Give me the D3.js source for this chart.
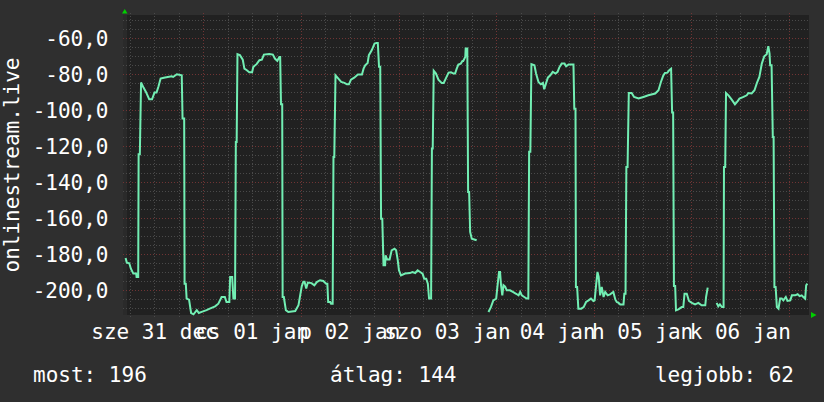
<!DOCTYPE html>
<html>
<head>
<meta charset="utf-8">
<script src="https://cdn.jsdelivr.net/npm/d3@7"></script>
<style>
  html, body { margin: 0; padding: 0; background: #2f2f2f; }
  svg { display: block; }
  text { font-family: "DejaVu Sans Mono", monospace; fill: #ffffff; }
</style>
</head>
<body>
<div id="viz"></div>
<script>
// hours since 2014-12-31 00:00, null = no data
let hours = [
    4.9, 5.2, 5.8, 6.2, 6.8, 7.5, 7.6, 8.0, 8.1, 8.4, 8.7, 9.3, 9.9, 10.7, 11.4, 12.0, 12.5, 13.0, 13.5, 14.3,
    16.2, 16.6, 17.5, 18.7, 18.9, 19.3, 19.4, 19.7, 19.9, 20.5, 21.0, 21.6, 22.4, 22.9, 23.6, 24.8, 25.6, 26.9,
    27.7, 28.5, 29.3, 29.7, 30.4, 30.6, 31.1, 31.4, 31.8, 32.0, 32.2, 32.4, 33.0, 33.7, 34.1, 34.7, 35.3, 36.0,
    36.3, 37.1, 37.8, 38.4, 38.9, 40.2, 41.1, 41.6, 42.2, 42.7, 42.9, 43.1, 43.4, 43.5, 43.8, 44.3, 44.9, 46.6,
    47.4, 47.8, 48.2, 48.6, 48.9, 49.3, 49.7, 50.6, 51.3, 51.9, 52.7, 53.5, 54.2, 54.5, 54.7, 55.2, 55.4, 55.8,
    56.0, 56.2, 56.5, 57.2, 57.9, 58.7, 59.3, 59.8, 60.3, 61.1, 62.0, 63.0, 63.4, 63.8, 64.4, 64.7, 65.4, 66.1,
    66.6, 66.9, 67.2, 67.5, 67.7, 68.0, 68.3, 68.7, 68.8, 69.2, 69.8, 70.3, 71.0, 71.4, 71.8, 72.1, 72.6, 73.6,
    74.8, 75.4, 76.1, 76.7, 77.3, 77.9, 78.3, 78.8, 79.2, 79.5, 80.0, 80.2, 80.4, 80.65, 81.2, 81.8, 82.6, 83.1,
    83.6, 84.3, 84.9, 85.5, 85.9, 86.3, 86.7, 87.3, 87.7, 87.9, 88.4, 88.5, 88.9, 89.1, 89.35, 89.6, 90.0, 90.8,
    91.2, 91.5,
    94.1, 94.7, 95.3, 96.0, 96.3, 96.7, 96.95, 97.2, 97.5, 97.8, 98.2, 98.6, 99.4, 100.1, 100.9, 101.5, 101.9,
    102.3, 102.9, 103.5, 103.9, 104.1, 104.4, 104.66, 105.4, 105.8, 106.4, 106.96, 107.5, 107.8, 108.1, 108.7,
    109.3, 109.9, 110.6, 111.1, 111.5, 112.1, 112.8, 113.2, 113.8, 115.0, 115.2, 115.5, 115.6, 115.9, 116.2,
    116.9, 117.5, 118.1, 118.7, 119.3, 119.9, 120.2, 120.6, 120.9, 121.2, 121.55, 121.95, 122.4, 122.8, 123.4,
    124.0, 124.8, 125.3, 125.65, 126.1, 126.5, 127.3, 127.5, 127.8, 128.0, 128.3, 128.6, 129.3, 129.9, 131.0,
    132.2, 133.4, 135.1, 135.9, 136.5, 137.1, 137.5, 138.1, 138.6, 139.0, 139.25, 139.5, 139.7, 140.0, 140.2,
    140.8, 141.6, 142.0, 142.3, 142.85, 143.4, 144.1, 144.9, 145.7, 146.5, 147.4, 147.6, 148.0, 148.5,
    150.2, 150.6, 151.0, 151.5, 151.9, 152.0, 152.3, 152.5, 153.1, 153.9, 154.7, 155.2, 155.8, 156.8, 157.6,
    158.0, 158.8, 159.5, 160.1, 160.7, 161.3, 161.9, 162.5, 162.9, 163.2, 163.35, 163.7, 164.0, 164.2, 164.4,
    164.7, 165.0, 165.4, 165.8, 166.2, 166.6, 167.2, 167.6, 168.3, 168.7, 169.5, 170.1, 170.6, 171.1, 171.5,
    171.96, 172.2, 172.5
];
let values = [
    -182, -184.6, -185, -188, -190.7, -190.7, -192.6, -192.6, -124.4, -124.4, -84.6, -87.4, -89.8, -93.9, -93.9, -90.2, -90.2, -86.7, -82.4, -81.9,
    -81.1, -81.5, -80, -80.6, -104.6, -104.6, -196.3, -196.3, -204.6, -205.2, -212.6, -213.3, -211, -212.6, -212, -211, -210.2, -208.9,
    -207.4, -203.7, -203.7, -206.5, -206.5, -192.6, -192.6, -204.6, -204.6, -117.6, -117.6, -68.9, -69.4, -71.9, -76.9, -77.8, -78.9, -78.9,
    -75.9, -74.4, -72.2, -71.9, -69.1, -68.7, -69.1, -71.3, -72.6, -70.4, -70.4, -96.7, -96.7, -203.7, -203.7, -211, -212, -211.5,
    -208.3, -203, -197.8, -195.2, -195.2, -199, -195.7, -196, -197.2, -195.4, -194.4, -194.8, -196.3, -196.3, -206.5, -206.5, -207.4, -207.4,
    -125.9, -125.9, -80.6, -82.4, -84.3, -84.8, -85.6, -85.6, -83, -81.9, -80.2, -80.2, -76.9, -75, -73.7, -69.4, -66.7, -63,
    -62.6, -62.6, -75.9, -75.9, -160.2, -160.2, -186.1, -186.1, -180.6, -182.9, -182.9, -177.8, -176.9, -177.8, -183.2, -188.9, -191.7, -190.7,
    -190.4, -189.8, -190.4, -188.9, -189.8, -190.7, -193.5, -193.5, -196.3, -204.6, -204.6, -121.3, -121.3, -78.1, -79.6, -83, -84.8, -84.8,
    -82.4, -79.1, -78.9, -79.6, -79.6, -76.9, -74.6, -74.1, -72.6, -72.6, -70.4, -65.7, -65.7, -145.4, -145.4, -167.6, -171.3, -171.9,
    -172.2, null,
    -212, -209.3, -205.6, -204.6, -198.1, -189.8, -189.8, -197.2, -202.8, -197.2, -198, -200, -200, -200.9, -201.9, -202.8, -200.9,
    -202.8, -203.7, -204.6, -204.6, -123.1, -123.1, -74.4, -75, -79.6, -84.3, -85.6, -84.8, -88.3, -86.2, -81.9,
    -80.6, -78.7, -79.6, -78.7, -76.3, -74.1, -74.1, -75.6, -74.6, -74.6, -99.1, -99.1, -198.1, -198.1, -210.2,
    -210.2, -209.3, -206.5, -205.6, -204.6, -205.9, -205.6, -196.3, -189.8, -192.6, -202.8, -198.1, -203.7, -200.9, -202.8,
    -202.2, -200.9, -205.2, -206.5, -207, -207.8, -207.8, -201.9, -201.9, -131.5, -131.5, -90.4, -90.4, -92.6, -93.5,
    -92.6, -91.7, -90.7, -88.9, -84.3, -80.6, -79.3, -79.1, -77.6, -76.9, -101.3, -101.3, -197.6, -197.6, -211.1,
    -210.6, -209.3, -209.3, -201.9, -201.9, -205.9, -207, -207.8, -207, -208.3, -208.3, -203.7, -198.5, null,
    -207, -208.9, -207.8, -209.3, -209.3, -131.5, -131.5, -90.4, -91.7, -94.1, -96.7, -95.4, -93.5, -92.6, -91.7,
    -90.4, -90.7, -88.9, -84.8, -81.5, -74.1, -70, -68.9, -64.4, -68.5, -75, -75, -114.8, -114.8, -198.1,
    -198.1, -209.3, -210.2, -204.6, -204.6, -205.6, -203.7, -205.9, -205.6, -202.8, -202.8, -202.2, -203.2, -202.8, -203.7,
    -204.6, -197.2, -196.3
];

let yTicks = [-200, -180, -160, -140, -120, -100, -80, -60];
// day names as they show on the axis (the sunday one is hidden under "jan")
let dayNames = [" ", "h", "k", "sze", "cs", "p", "szo"];
let monthNames = ["jan", "febr", "márc", "ápr", "máj", "jún", "júl", "aug", "szept", "okt", "nov", "dec"];
let yTitle = "onlinestream.live";
let legendLabels = ["most: 196", "átlag: 144", "legjobb: 62"];

let startDate = new Date(2014, 11, 31, 0, 0, 0);
let toDate = h => new Date(startDate.getTime() + h * 3600 * 1000);

window.onload = function () {
    let width = 824, height = 402;
    let plot = {left: 123, right: 809, top: 15, bottom: 315};

    let svg = d3.select("#viz").append("svg")
        .attr("width", width)
        .attr("height", height);

    svg.append("rect").attr("width", width).attr("height", height).attr("fill", "#2f2f2f");

    let x = d3.scaleTime()
        .domain([toDate(4.26), toDate(172.9)])
        .range([plot.left, plot.right]);
    let y = d3.scaleLinear()
        .domain([-213.7, -47.1])
        .range([plot.bottom, plot.top]);

    // plot background
    svg.append("rect")
        .attr("x", plot.left).attr("y", plot.top)
        .attr("width", plot.right - plot.left).attr("height", plot.bottom - plot.top)
        .attr("fill", "#212121");
    svg.append("rect")
        .attr("x", plot.left).attr("y", plot.top)
        .attr("width", 4).attr("height", plot.bottom - plot.top)
        .attr("fill", "#2a2a2a");

    let grid = svg.append("g");
    let minorY = d3.range(-210, -45, 5).filter(v => v % 20 !== 0);
    let minorX = x.ticks(d3.timeHour.every(6)).filter(d => d.getHours() !== 0);
    let majorX = x.ticks(d3.timeDay.every(1));

    grid.selectAll(".minor-y").data(minorY).enter().append("line")
        .attr("x1", plot.left).attr("x2", plot.right)
        .attr("y1", d => Math.round(y(d)) + 0.5).attr("y2", d => Math.round(y(d)) + 0.5)
        .attr("stroke", "#4a4a4a").attr("stroke-dasharray", "1,2");
    grid.selectAll(".minor-x").data(minorX).enter().append("line")
        .attr("x1", d => Math.round(x(d)) + 0.5).attr("x2", d => Math.round(x(d)) + 0.5)
        .attr("y1", plot.top - 2).attr("y2", plot.bottom + 2)
        .attr("stroke", "#4a4a4a").attr("stroke-dasharray", "1,2");
    grid.selectAll(".major-y").data(yTicks).enter().append("line")
        .attr("x1", plot.left).attr("x2", plot.right)
        .attr("y1", d => Math.round(y(d)) + 0.5).attr("y2", d => Math.round(y(d)) + 0.5)
        .attr("stroke", "#703434").attr("stroke-dasharray", "1,2");
    grid.selectAll(".major-x").data(majorX).enter().append("line")
        .attr("x1", d => Math.round(x(d)) + 0.5).attr("x2", d => Math.round(x(d)) + 0.5)
        .attr("y1", plot.top - 2).attr("y2", plot.bottom + 2)
        .attr("stroke", "#703434").attr("stroke-dasharray", "1,2");

    // the line
    let data = hours.map((h, i) => ({t: toDate(h), v: values[i]}));
    let line = d3.line()
        .defined(d => d.v !== null)
        .x(d => x(d.t))
        .y(d => y(d.v));
    svg.append("path")
        .datum(data)
        .attr("d", line)
        .attr("fill", "none")
        .attr("stroke", "#72eeb3")
        .attr("stroke-width", 2)
        .attr("stroke-linejoin", "miter");

    // y labels
    let loc = d3.formatLocale({decimal: ",", thousands: " ", grouping: [3], currency: ["", ""], minus: "-"});
    let fmt = loc.format(".1f");
    svg.selectAll(".ylab").data(yTicks).enter().append("text")
        .attr("x", 108.5)
        .attr("y", d => y(d))
        .attr("dy", "0.36em")
        .attr("text-anchor", "end")
        .style("font-size", "21px")
        .text(d => fmt(d));

    // x labels, centred at noon of each day
    let pad = d3.format("02d");
    let noons = majorX.map(d => d3.timeHour.offset(d, -12))
        .concat([d3.timeHour.offset(majorX[majorX.length - 1], 12)])
        .filter(d => d >= x.domain()[0] && d <= x.domain()[1]);
    svg.selectAll(".xlab").data(noons).enter().append("text")
        .attr("x", d => x(d))
        .attr("y", 338.5)
        .attr("text-anchor", "middle")
        .style("font-size", "21px")
        .style("white-space", "pre")
        .text(d => dayNames[d.getDay()] + " " + pad(d.getDate()) + " " + monthNames[d.getMonth()]);

    // vertical title
    svg.append("text")
        .attr("transform", "translate(19," + ((plot.top + plot.bottom) / 2) + ") rotate(-90)")
        .attr("text-anchor", "middle")
        .style("font-size", "21px")
        .text(yTitle);

    // legend
    svg.append("text").attr("x", 33).attr("y", 382).style("font-size", "21px").text(legendLabels[0]);
    svg.append("text").attr("x", 330).attr("y", 382).style("font-size", "21px").text(legendLabels[1]);
    svg.append("text").attr("x", 794).attr("y", 382).attr("text-anchor", "end").style("font-size", "21px").text(legendLabels[2]);

    // axis arrows
    svg.append("path")
        .attr("d", "M" + (plot.left - 1) + "," + (plot.top - 1.5) + "l5.5,0l-2.75,-4.5z")
        .attr("fill", "#00d000");
    svg.append("path")
        .attr("d", "M" + (plot.right + 2) + "," + (plot.bottom - 3) + "l0,6l5.5,-3z")
        .attr("fill", "#00d000");
};
</script>
</body>
</html>
